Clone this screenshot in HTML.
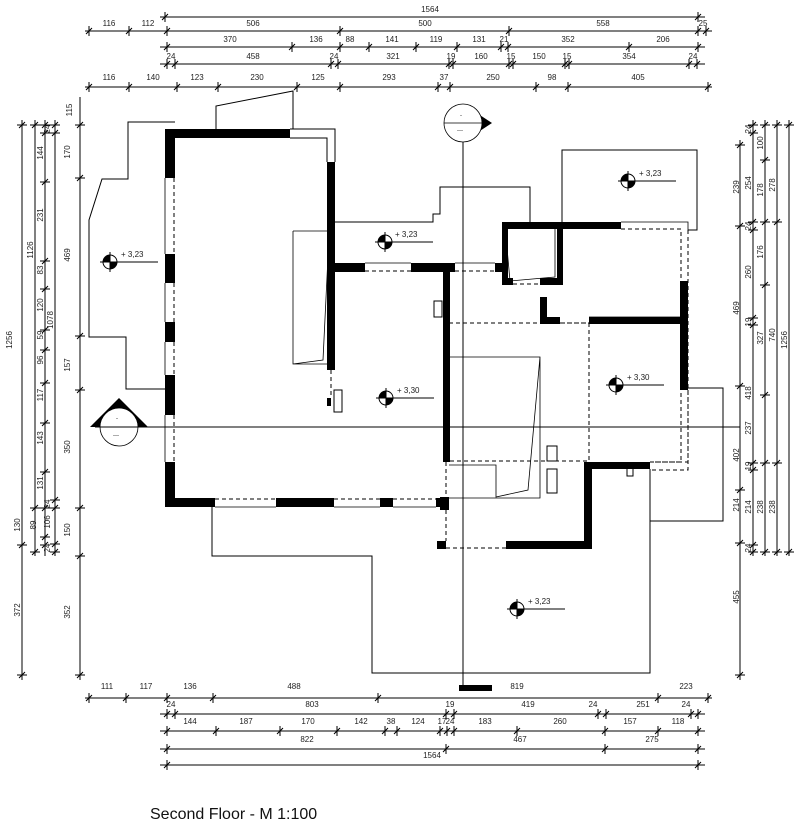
<!DOCTYPE html>
<html><head><meta charset="utf-8"><style>
html,body{margin:0;padding:0;background:#fff;}
svg{display:block;font-family:"Liberation Sans",sans-serif;}
text{font-size:8px;fill:#222;}
</style></head><body>
<svg width="806" height="835" viewBox="0 0 806 835" xmlns="http://www.w3.org/2000/svg">
<g stroke="#000" stroke-width="1" fill="none">
<!-- top dimension lines -->
<path d="M160,17H705 M85,31H712 M160,47H705 M160,64H705 M85,87H712"/>
<path d="M160,698H712 M85,698H160 M160,714H705 M160,731H705 M160,749H705 M160,765H705"/>
<!-- ticks top -->
<path d="M162,20l6,-6M165,12v10 M695,20l6,-6M698,12v10
M86,34l6,-6M89,26v10 M126,34l6,-6M129,26v10 M164,34l6,-6M167,26v10 M337,34l6,-6M340,26v10 M506,34l6,-6M509,26v10 M695,34l6,-6M698,26v10 M703,34l6,-6M706,26v10
M164,50l6,-6M167,42v10 M289,50l6,-6M292,42v10 M337,50l6,-6M340,42v10 M366,50l6,-6M369,42v10 M413,50l6,-6M416,42v10 M454,50l6,-6M457,42v10 M498,50l6,-6M501,42v10 M505,50l6,-6M508,42v10 M626,50l6,-6M629,42v10 M695,50l6,-6M698,42v10
M164,67l6,-6M167,59v10 M172,67l6,-6M175,59v10 M328,67l6,-6M331,59v10 M335,67l6,-6M338,59v10 M446,67l6,-6M449,59v10 M450,67l6,-6M453,59v10 M506,67l6,-6M509,59v10 M510,67l6,-6M513,59v10 M562,67l6,-6M565,59v10 M566,67l6,-6M569,59v10 M686,67l6,-6M689,59v10 M694,67l6,-6M697,59v10
M86,90l6,-6M89,82v10 M126,90l6,-6M129,82v10 M174,90l6,-6M177,82v10 M215,90l6,-6M218,82v10 M294,90l6,-6M297,82v10 M337,90l6,-6M340,82v10 M435,90l6,-6M438,82v10 M447,90l6,-6M450,82v10 M533,90l6,-6M536,82v10 M565,90l6,-6M568,82v10 M705,90l6,-6M708,82v10"/>
<!-- ticks bottom -->
<path d="M86,701l6,-6M89,693v10 M123,701l6,-6M126,693v10 M164,701l6,-6M167,693v10 M210,701l6,-6M213,693v10 M375,701l6,-6M378,693v10 M655,701l6,-6M658,693v10 M705,701l6,-6M708,693v10
M164,717l6,-6M167,709v10 M172,717l6,-6M175,709v10 M443,717l6,-6M446,709v10 M451,717l6,-6M454,709v10 M595,717l6,-6M598,709v10 M603,717l6,-6M606,709v10 M688,717l6,-6M691,709v10 M695,717l6,-6M698,709v10
M164,734l6,-6M167,726v10 M213,734l6,-6M216,726v10 M277,734l6,-6M280,726v10 M334,734l6,-6M337,726v10 M382,734l6,-6M385,726v10 M394,734l6,-6M397,726v10 M437,734l6,-6M440,726v10 M444,734l6,-6M447,726v10 M451,734l6,-6M454,726v10 M514,734l6,-6M517,726v10 M602,734l6,-6M605,726v10 M655,734l6,-6M658,726v10 M695,734l6,-6M698,726v10
M164,752l6,-6M167,744v10 M443,752l6,-6M446,744v10 M602,752l6,-6M605,744v10 M695,752l6,-6M698,744v10
M164,768l6,-6M167,760v10 M695,768l6,-6M698,760v10"/>
<!-- left vertical dimension lines -->
<path d="M22,120V680 M35,120V556 M45,120V556 M55,120V556 M80,97V680"/>
<path d="M19,128l6,-6M17,125h10 M19,548l6,-6M17,545h10 M19,678l6,-6M17,675h10
M32,128l6,-6M30,125h10 M32,511l6,-6M30,508h10 M32,555l6,-6M30,552h10
M42,128l6,-6M40,125h10 M42,136l6,-6M40,133h10 M42,185l6,-6M40,182h10 M42,264l6,-6M40,261h10 M42,292l6,-6M40,289h10 M42,333l6,-6M40,330h10 M42,353l6,-6M40,350h10 M42,386l6,-6M40,383h10 M42,426l6,-6M40,423h10 M42,475l6,-6M40,472h10 M42,511l6,-6M40,508h10 M42,540l6,-6M40,537h10 M42,548l6,-6M40,545h10
M52,128l6,-6M50,125h10 M52,136l6,-6M50,133h10 M52,503l6,-6M50,500h10 M52,511l6,-6M50,508h10 M52,547l6,-6M50,544h10 M52,555l6,-6M50,552h10
M77,128l6,-6M75,125h10 M77,181l6,-6M75,178h10 M77,339l6,-6M75,336h10 M77,393l6,-6M75,390h10 M77,511l6,-6M75,508h10 M77,559l6,-6M75,556h10 M77,678l6,-6M75,675h10"/>
<!-- right vertical dimension lines -->
<path d="M740,140V680 M753,120V556 M765,120V556 M777,120V556 M789,120V556"/>
<path d="M737,148l6,-6M735,145h10 M737,229l6,-6M735,226h10 M737,389l6,-6M735,386h10 M737,493l6,-6M735,490h10 M737,546l6,-6M735,543h10 M737,678l6,-6M735,675h10
M750,128l6,-6M748,125h10 M750,136l6,-6M748,133h10 M750,225l6,-6M748,222h10 M750,233l6,-6M748,230h10 M750,321l6,-6M748,318h10 M750,328l6,-6M748,325h10 M750,466l6,-6M748,463h10 M750,473l6,-6M748,470h10 M750,548l6,-6M748,545h10 M750,555l6,-6M748,552h10
M762,128l6,-6M760,125h10 M762,163l6,-6M760,160h10 M762,225l6,-6M760,222h10 M762,288l6,-6M760,285h10 M762,398l6,-6M760,395h10 M762,466l6,-6M760,463h10 M762,555l6,-6M760,552h10
M774,128l6,-6M772,125h10 M774,225l6,-6M772,222h10 M774,466l6,-6M772,463h10 M774,555l6,-6M772,552h10
M786,128l6,-6M784,125h10 M786,555l6,-6M784,552h10"/>

<!-- outlines (terraces etc) -->
<path d="M175,122H128V179H102L89,220V337H126V389H165"/>
<path d="M216,129V106L293,91V129"/>
<path d="M290,129H335V162 M290,138H327V162"/>
<path d="M335,222H433V214H440V187H530V222"/>
<path d="M562,222V150H697V230H688"/>
<path d="M688,388H723V521H650"/>
<path d="M650,469V673H372V556H212V507"/>
<!-- axis lines -->
<path d="M463,141V690 M95,427H740"/>
<!-- stairs -->
<path d="M293,231H327 M293,231V364H327 M293,364L323,360L329,236" stroke-width="0.8"/>
<path d="M449,357H540V498H449 M449,465H496V497L528,490L540,357" stroke-width="0.8"/>
<path d="M505,226H555V277L510,281Z" stroke-width="0.8"/>
<!-- small boxes -->
<rect x="434" y="301" width="8" height="16"/>
<rect x="547" y="446" width="10" height="15"/>
<rect x="547" y="469" width="10" height="24"/>
<rect x="334" y="390" width="8" height="22"/>
<rect x="627" y="468" width="6" height="8"/>
</g>

<!-- walls -->
<g fill="#000">
<rect x="165" y="129" width="125" height="9"/>
<rect x="165" y="129" width="10" height="49"/>
<rect x="165" y="254" width="10" height="29"/>
<rect x="165" y="322" width="10" height="20"/>
<rect x="165" y="375" width="10" height="40"/>
<rect x="165" y="462" width="10" height="45"/>
<rect x="165" y="498" width="50" height="9"/>
<rect x="276" y="498" width="58" height="9"/>
<rect x="380" y="498" width="13" height="9"/>
<rect x="436" y="498" width="12" height="9"/>
<rect x="327" y="162" width="8" height="208"/>
<rect x="327" y="398" width="4" height="8"/>
<rect x="330" y="263" width="35" height="9"/>
<rect x="411" y="263" width="41" height="9"/>
<rect x="443" y="263" width="7" height="199"/>
<rect x="440" y="497" width="9" height="13"/>
<rect x="437" y="541" width="9" height="8"/>
<rect x="506" y="541" width="86" height="8"/>
<rect x="584" y="462" width="8" height="87"/>
<rect x="589" y="462" width="61" height="7"/>
<rect x="502" y="222" width="119" height="7"/>
<rect x="502" y="222" width="6" height="63"/>
<rect x="557" y="222" width="6" height="63"/>
<rect x="502" y="278" width="11" height="7"/>
<rect x="540" y="278" width="23" height="7"/>
<rect x="450" y="263" width="5" height="9"/>
<rect x="495" y="263" width="9" height="9"/>
<rect x="540" y="297" width="7" height="27"/>
<rect x="540" y="317" width="20" height="7"/>
<rect x="589" y="317" width="99" height="7"/>
<rect x="680" y="281" width="8" height="109"/>
<rect x="459" y="685" width="33" height="6"/>
</g>
<!-- windows (dashed inner lines) -->
<g stroke="#000" stroke-width="1" fill="none" stroke-dasharray="4,3">
<path d="M174,178V254 M174,283V322 M174,342V375 M174,415V462"/>
<path d="M215,499H276 M334,499H380 M393,499H436"/>
<path d="M365,271H411 M455,271H495 M513,284H540 M560,323H589"/>
<path d="M331,370V398 M446,462V497 M446,510V541 M446,548H506"/>
<path d="M449,323H589V461H449 M589,323V461"/>
<path d="M621,229H681V462H650 M688,230V462H650 M688,390V470H650"/>
</g>
<g stroke="#000" stroke-width="0.8" fill="none">
<path d="M165,178V254 M165,283V322 M165,342V375 M165,415V462"/>
<path d="M215,507H276 M334,507H380 M393,507H436"/>
<path d="M365,263H411 M455,263H495 M621,222H688V230"/>
<path d="M589,317H680"/>
</g>

<!-- section markers -->
<g>
<polygon points="463,104 492,123 463,142" fill="#000"/>
<circle cx="463" cy="123" r="19" fill="#fff" stroke="#000" stroke-width="0.8"/>
<line x1="444" y1="123" x2="482" y2="123" stroke="#000" stroke-width="0.8"/>
<text x="460" y="117" style="font-size:6px">-</text>
<text x="457" y="132" style="font-size:6px">---</text>
<polygon points="90,427 119,398 148,427" fill="#000"/>
<circle cx="119" cy="427" r="19" fill="#fff" stroke="#000" stroke-width="0.8"/>
<line x1="95" y1="427" x2="165" y2="427" stroke="#000" stroke-width="1"/>
<text x="116" y="420" style="font-size:6px">-</text>
<text x="113" y="437" style="font-size:6px">---</text>
</g>

<!-- elevation markers -->
<g stroke="#000" stroke-width="1">
<g transform="translate(110,262)"><circle r="7" fill="#fff"/><path d="M0,-7A7,7 0 0 0 -7,0H0Z M0,7A7,7 0 0 0 7,0H0Z" fill="#000" stroke="none"/><path d="M-10,0H48 M0,-10V10"/></g>
<g transform="translate(385,242)"><circle r="7" fill="#fff"/><path d="M0,-7A7,7 0 0 0 -7,0H0Z M0,7A7,7 0 0 0 7,0H0Z" fill="#000" stroke="none"/><path d="M-10,0H48 M0,-10V10"/></g>
<g transform="translate(628,181)"><circle r="7" fill="#fff"/><path d="M0,-7A7,7 0 0 0 -7,0H0Z M0,7A7,7 0 0 0 7,0H0Z" fill="#000" stroke="none"/><path d="M-10,0H48 M0,-10V10"/></g>
<g transform="translate(386,398)"><circle r="7" fill="#fff"/><path d="M0,-7A7,7 0 0 0 -7,0H0Z M0,7A7,7 0 0 0 7,0H0Z" fill="#000" stroke="none"/><path d="M-10,0H48 M0,-10V10"/></g>
<g transform="translate(616,385)"><circle r="7" fill="#fff"/><path d="M0,-7A7,7 0 0 0 -7,0H0Z M0,7A7,7 0 0 0 7,0H0Z" fill="#000" stroke="none"/><path d="M-10,0H48 M0,-10V10"/></g>
<g transform="translate(517,609)"><circle r="7" fill="#fff"/><path d="M0,-7A7,7 0 0 0 -7,0H0Z M0,7A7,7 0 0 0 7,0H0Z" fill="#000" stroke="none"/><path d="M-10,0H48 M0,-10V10"/></g>
</g>
<g>
<text x="121" y="257">+ 3,23</text>
<text x="395" y="237">+ 3,23</text>
<text x="639" y="176">+ 3,23</text>
<text x="397" y="393">+ 3,30</text>
<text x="627" y="380">+ 3,30</text>
<text x="528" y="604">+ 3,23</text>
</g>

<!-- top labels -->
<g text-anchor="middle">
<text x="430" y="12">1564</text>
<text x="109" y="26">116</text><text x="148" y="26">112</text><text x="253" y="26">506</text><text x="425" y="26">500</text><text x="603" y="26">558</text><text x="703" y="26">25</text>
<text x="230" y="42">370</text><text x="316" y="42">136</text><text x="350" y="42">88</text><text x="392" y="42">141</text><text x="436" y="42">119</text><text x="479" y="42">131</text><text x="504" y="42">21</text><text x="568" y="42">352</text><text x="663" y="42">206</text>
<text x="171" y="59">24</text><text x="253" y="59">458</text><text x="334" y="59">24</text><text x="393" y="59">321</text><text x="451" y="59">19</text><text x="481" y="59">160</text><text x="511" y="59">15</text><text x="539" y="59">150</text><text x="567" y="59">15</text><text x="629" y="59">354</text><text x="693" y="59">24</text>
<text x="109" y="80">116</text><text x="153" y="80">140</text><text x="197" y="80">123</text><text x="257" y="80">230</text><text x="318" y="80">125</text><text x="389" y="80">293</text><text x="444" y="80">37</text><text x="493" y="80">250</text><text x="552" y="80">98</text><text x="638" y="80">405</text>
<!-- bottom labels -->
<text x="107" y="689">111</text><text x="146" y="689">117</text><text x="190" y="689">136</text><text x="294" y="689">488</text><text x="517" y="689">819</text><text x="686" y="689">223</text>
<text x="171" y="707">24</text><text x="312" y="707">803</text><text x="450" y="707">19</text><text x="528" y="707">419</text><text x="593" y="707">24</text><text x="643" y="707">251</text><text x="686" y="707">24</text>
<text x="190" y="724">144</text><text x="246" y="724">187</text><text x="308" y="724">170</text><text x="361" y="724">142</text><text x="391" y="724">38</text><text x="418" y="724">124</text><text x="442" y="724">17</text><text x="450" y="724">24</text><text x="485" y="724">183</text><text x="560" y="724">260</text><text x="630" y="724">157</text><text x="678" y="724">118</text>
<text x="307" y="742">822</text><text x="520" y="742">467</text><text x="652" y="742">275</text>
<text x="432" y="758">1564</text>
</g>
<!-- left labels (rotated) -->
<g text-anchor="middle" style="font-size:7px">
<text transform="translate(12,340) rotate(-90)">1256</text>
<text transform="translate(20,525) rotate(-90)">130</text>
<text transform="translate(20,610) rotate(-90)">372</text>
<text transform="translate(33,250) rotate(-90)">1126</text>
<text transform="translate(36,525) rotate(-90)">89</text>
<text transform="translate(43,153) rotate(-90)">144</text><text transform="translate(43,215) rotate(-90)">231</text><text transform="translate(43,270) rotate(-90)">83</text><text transform="translate(43,305) rotate(-90)">120</text><text transform="translate(43,335) rotate(-90)">59</text><text transform="translate(43,360) rotate(-90)">96</text><text transform="translate(43,395) rotate(-90)">117</text><text transform="translate(43,438) rotate(-90)">143</text><text transform="translate(43,483) rotate(-90)">131</text>
<text transform="translate(50,129) rotate(-90)">24</text><text transform="translate(53,320) rotate(-90)">1078</text><text transform="translate(50,522) rotate(-90)">106</text><text transform="translate(50,504) rotate(-90)">24</text><text transform="translate(50,548) rotate(-90)">24</text>
<text transform="translate(72,110) rotate(-90)">115</text><text transform="translate(70,152) rotate(-90)">170</text><text transform="translate(70,255) rotate(-90)">469</text><text transform="translate(70,365) rotate(-90)">157</text><text transform="translate(70,447) rotate(-90)">350</text><text transform="translate(70,530) rotate(-90)">150</text><text transform="translate(70,612) rotate(-90)">352</text>
<!-- right labels -->
<text transform="translate(739,187) rotate(-90)">239</text><text transform="translate(739,308) rotate(-90)">469</text><text transform="translate(739,455) rotate(-90)">402</text><text transform="translate(739,505) rotate(-90)">214</text><text transform="translate(739,597) rotate(-90)">455</text>
<text transform="translate(751,129) rotate(-90)">24</text><text transform="translate(751,183) rotate(-90)">254</text><text transform="translate(751,226) rotate(-90)">24</text><text transform="translate(751,272) rotate(-90)">260</text><text transform="translate(751,322) rotate(-90)">19</text><text transform="translate(751,393) rotate(-90)">418</text><text transform="translate(751,428) rotate(-90)">237</text><text transform="translate(751,466) rotate(-90)">19</text><text transform="translate(751,507) rotate(-90)">214</text><text transform="translate(751,548) rotate(-90)">24</text>
<text transform="translate(763,143) rotate(-90)">100</text><text transform="translate(763,190) rotate(-90)">178</text><text transform="translate(763,252) rotate(-90)">176</text><text transform="translate(763,338) rotate(-90)">327</text><text transform="translate(763,507) rotate(-90)">238</text>
<text transform="translate(775,185) rotate(-90)">278</text><text transform="translate(775,335) rotate(-90)">740</text><text transform="translate(775,507) rotate(-90)">238</text>
<text transform="translate(787,340) rotate(-90)">1256</text>
</g>
<text x="150" y="819" style="font-size:16px;fill:#111">Second Floor - M 1:100</text>
</svg>
</body></html>
